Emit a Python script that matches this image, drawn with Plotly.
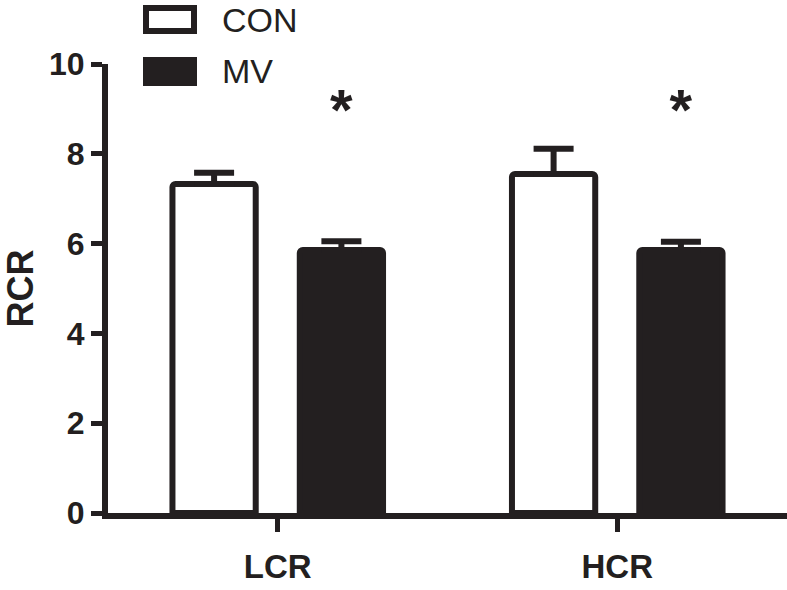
import plotly.graph_objects as go

categories = ["LCR", "HCR"]
con_values = [7.33, 7.55]
con_errors = [0.25, 0.56]
mv_values = [5.86, 5.86]
mv_errors = [0.19, 0.18]
sig_labels = ["*", "*"]
sig_level = [8.85, 8.85]
y_ticks = [0, 2, 4, 6, 8, 10]

INK = "#231f20"
FONT = "Arial, Liberation Sans, sans-serif"

fig = go.Figure()
fig.add_trace(go.Bar(
    name="CON", x=categories, y=con_values,
    marker=dict(color="white", line=dict(color=INK, width=6), cornerradius=3),
    error_y=dict(type="data", array=con_errors, arrayminus=[0, 0], symmetric=False,
                 color=INK, thickness=6, width=20),
    offsetgroup="con", showlegend=False,
))
fig.add_trace(go.Bar(
    name="MV", x=categories, y=mv_values,
    marker=dict(color=INK, line=dict(color=INK, width=6), cornerradius=3),
    error_y=dict(type="data", array=mv_errors, arrayminus=[0, 0], symmetric=False,
                 color=INK, thickness=6, width=20),
    offsetgroup="mv", showlegend=False,
))
# significance markers aligned with groups
fig.add_trace(go.Scatter(
    x=categories, y=sig_level, mode="text", text=["", ""],
    offsetgroup="con", showlegend=False, hoverinfo="skip",
))
fig.add_trace(go.Scatter(
    x=categories, y=sig_level, mode="text", text=sig_labels,
    textfont=dict(family=FONT, size=58, color=INK, weight="bold"),
    offsetgroup="mv", showlegend=False, hoverinfo="skip",
))

# custom legend
plot_l, plot_r, plot_t, plot_b = 108, 787, 64, 513
W = plot_r - plot_l
H = plot_b - plot_t
def px(x):
    return (x - plot_l) / W
def py(y):
    return (plot_b - y) / H

fig.add_shape(type="rect", xref="paper", yref="paper",
              x0=px(146), x1=px(194), y0=py(31), y1=py(8),
              line=dict(color=INK, width=6), fillcolor="white")
fig.add_shape(type="rect", xref="paper", yref="paper",
              x0=px(146), x1=px(194), y0=py(83), y1=py(60),
              line=dict(color=INK, width=6), fillcolor=INK)
fig.add_annotation(text="CON", xref="paper", yref="paper", x=px(220), y=py(20),
                   xanchor="left", yanchor="middle", showarrow=False,
                   font=dict(family=FONT, size=34, color=INK))
fig.add_annotation(text="MV", xref="paper", yref="paper", x=px(220), y=py(71),
                   xanchor="left", yanchor="middle", showarrow=False,
                   font=dict(family=FONT, size=34, color=INK))

fig.update_layout(
    width=787, height=590,
    margin=dict(l=plot_l, r=0, t=plot_t, b=590 - plot_b, autoexpand=False),
    paper_bgcolor="white", plot_bgcolor="white",
    barmode="group", bargap=0.25, bargroupgap=0.346,
    scattermode="group", scattergap=0.25,
    showlegend=False,
    font=dict(family=FONT, color=INK),
    xaxis=dict(
        type="category", range=[-0.5, 1.5], automargin=False,
        showline=True, linecolor=INK, linewidth=6,
        ticks="outside", ticklen=13, tickwidth=5, tickcolor=INK,
        tickfont=dict(family=FONT, size=33, color=INK, weight="bold"),
        showgrid=False, zeroline=False, ticklabelstandoff=6,
    ),
    yaxis=dict(
        range=[0, 10], tickvals=y_ticks, automargin=False,
        showline=True, linecolor=INK, linewidth=6,
        ticks="outside", ticklen=11, tickwidth=5, tickcolor=INK,
        tickfont=dict(family=FONT, size=32, color=INK, weight="bold"),
        showgrid=False, zeroline=False,
        title=dict(text="RCR", font=dict(family=FONT, size=36, color=INK, weight="bold"),
                   standoff=12),
    ),
)

fig.write_html("out.html", config={"displayModeBar": False},
               post_script="document.body.style.margin='0';document.body.style.overflow='hidden';")
